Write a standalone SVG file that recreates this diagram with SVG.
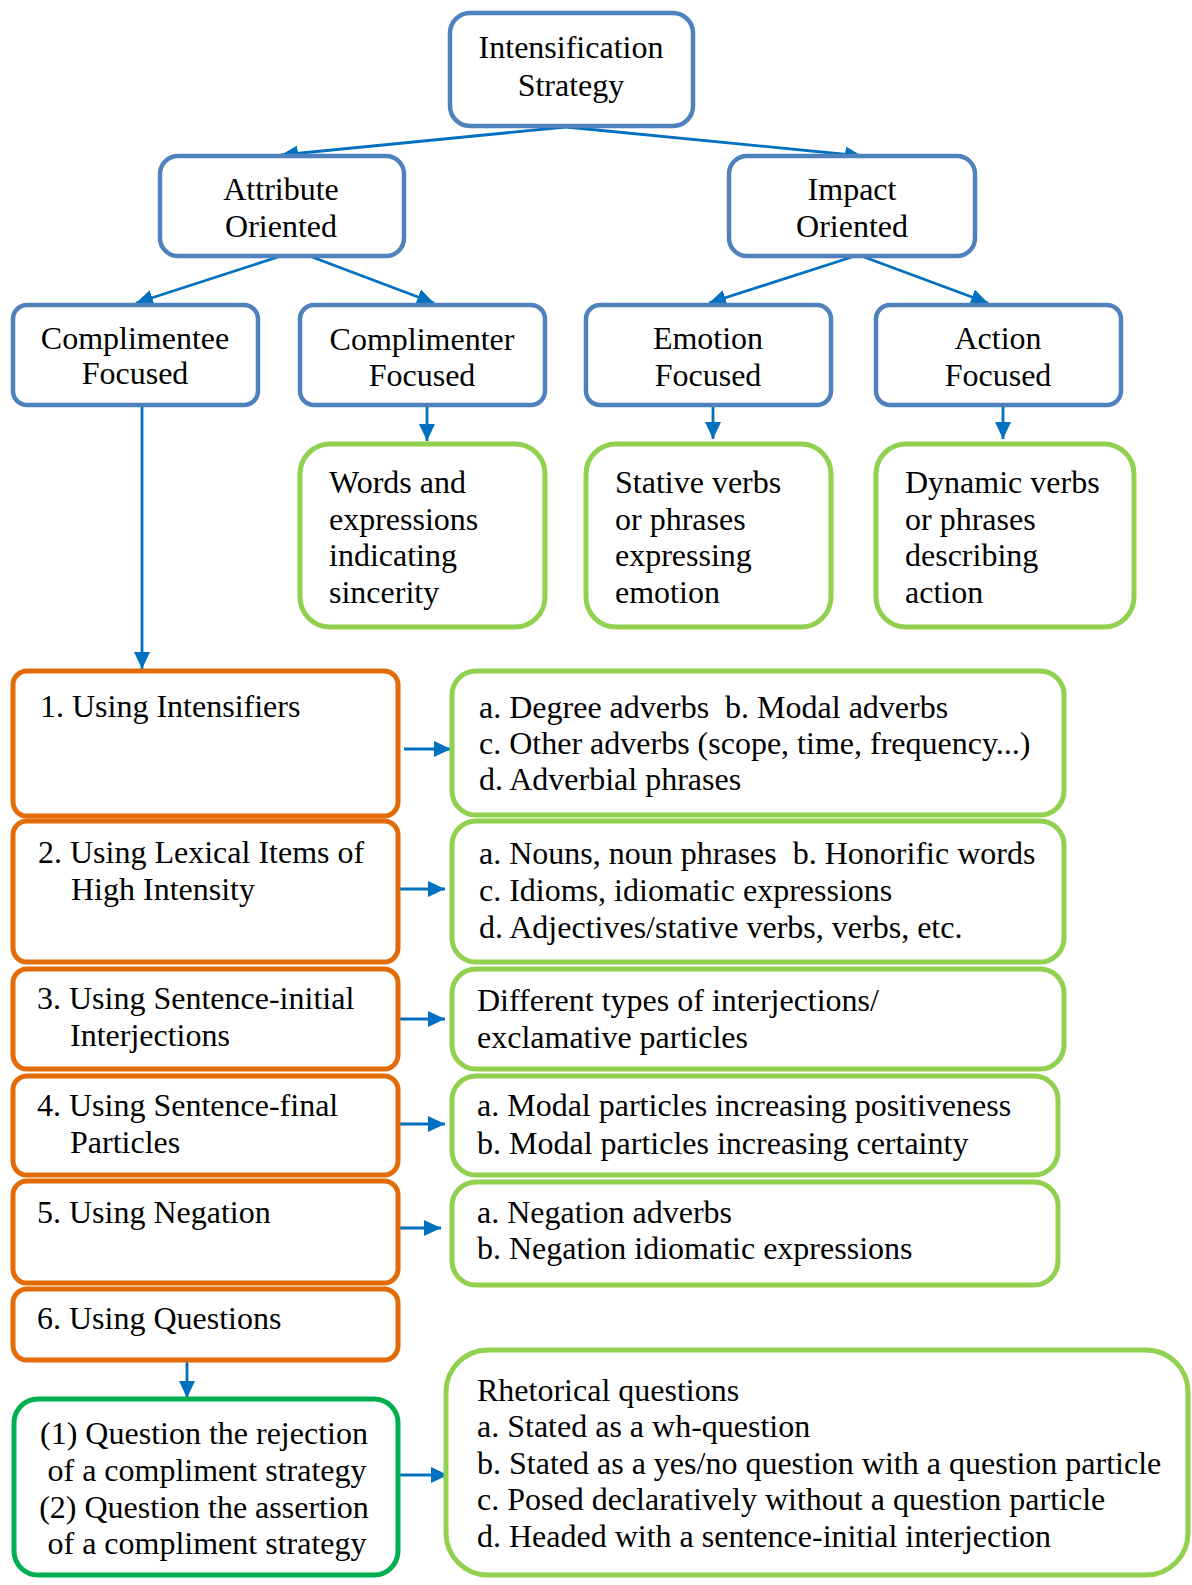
<svg xmlns="http://www.w3.org/2000/svg" width="1192" height="1585" viewBox="0 0 1192 1585">
<style>
text{font-family:"Liberation Serif","Times New Roman",serif;font-size:32px;fill:#000;white-space:pre}
.c{text-anchor:middle}
.blue{fill:#fff;stroke:#4F81BD;stroke-width:4.5}
.lg{fill:#fff;stroke:#92D050;stroke-width:5}
.or{fill:#fff;stroke:#E36C09;stroke-width:5}
.dg{fill:#fff;stroke:#00B050;stroke-width:5}
.conn line{stroke:#0070C0;stroke-width:2.8;fill:none}
</style>
<defs>
<marker id="ah" markerUnits="userSpaceOnUse" markerWidth="18" markerHeight="16" refX="17" refY="8" orient="auto">
<path d="M0,0 L17,8 L0,16 z" fill="#0070C0"/>
</marker>
</defs>
<rect width="1192" height="1585" fill="#fff"/>
<g class="conn">
<line x1="566" y1="127" x2="281" y2="155" marker-end="url(#ah)"/>
<line x1="566" y1="127" x2="862" y2="156" marker-end="url(#ah)"/>
<line x1="278" y1="257" x2="136" y2="303" marker-end="url(#ah)"/>
<line x1="312" y1="257" x2="434" y2="303" marker-end="url(#ah)"/>
<line x1="852" y1="257" x2="709" y2="303" marker-end="url(#ah)"/>
<line x1="864" y1="257" x2="988" y2="303" marker-end="url(#ah)"/>
<line x1="427" y1="407" x2="427" y2="441" marker-end="url(#ah)"/>
<line x1="713" y1="407" x2="713" y2="439" marker-end="url(#ah)"/>
<line x1="1003" y1="407" x2="1003" y2="439" marker-end="url(#ah)"/>
<line x1="142" y1="407" x2="142" y2="669" marker-end="url(#ah)"/>
<line x1="404" y1="749" x2="451" y2="749" marker-end="url(#ah)"/>
<line x1="398" y1="889" x2="445" y2="889" marker-end="url(#ah)"/>
<line x1="398" y1="1019" x2="445" y2="1019" marker-end="url(#ah)"/>
<line x1="398" y1="1124" x2="445" y2="1124" marker-end="url(#ah)"/>
<line x1="394" y1="1228" x2="441" y2="1228" marker-end="url(#ah)"/>
<line x1="187" y1="1362" x2="187" y2="1398" marker-end="url(#ah)"/>
<line x1="400" y1="1475" x2="448" y2="1475" marker-end="url(#ah)"/>
</g>
<g id="intensification">
<rect class="blue" x="450" y="13" width="243" height="113" rx="20"/>
<text class="c" x="571" y="58">Intensification</text>
<text class="c" x="571" y="96">Strategy</text>
</g>
<g id="attribute">
<rect class="blue" x="160" y="156" width="244" height="100" rx="18"/>
<text class="c" x="281" y="200">Attribute</text>
<text class="c" x="281" y="237">Oriented</text>
</g>
<g id="impact">
<rect class="blue" x="729" y="156" width="246" height="100" rx="18"/>
<text class="c" x="852" y="200">Impact</text>
<text class="c" x="852" y="237">Oriented</text>
</g>
<g id="complimentee">
<rect class="blue" x="13" y="305" width="245" height="100" rx="14"/>
<text class="c" x="135" y="349">Complimentee</text>
<text class="c" x="135" y="384">Focused</text>
</g>
<g id="complimenter">
<rect class="blue" x="300" y="305" width="245" height="100" rx="14"/>
<text class="c" x="422" y="350">Complimenter</text>
<text class="c" x="422" y="386">Focused</text>
</g>
<g id="emotion">
<rect class="blue" x="586" y="305" width="245" height="100" rx="14"/>
<text class="c" x="708" y="349">Emotion</text>
<text class="c" x="708" y="386">Focused</text>
</g>
<g id="action">
<rect class="blue" x="876" y="305" width="245" height="100" rx="14"/>
<text class="c" x="998" y="349">Action</text>
<text class="c" x="998" y="386">Focused</text>
</g>
<g id="words">
<rect class="lg" x="300" y="444" width="245" height="183" rx="30"/>
<text x="329" y="493">Words and</text>
<text x="329" y="530">expressions</text>
<text x="329" y="566">indicating</text>
<text x="329" y="603">sincerity</text>
</g>
<g id="stative">
<rect class="lg" x="586" y="444" width="245" height="183" rx="30"/>
<text x="615" y="493">Stative verbs</text>
<text x="615" y="530">or phrases</text>
<text x="615" y="566">expressing</text>
<text x="615" y="603">emotion</text>
</g>
<g id="dynamic">
<rect class="lg" x="876" y="444" width="258" height="183" rx="30"/>
<text x="905" y="493">Dynamic verbs</text>
<text x="905" y="530">or phrases</text>
<text x="905" y="566">describing</text>
<text x="905" y="603">action</text>
</g>
<g id="s1">
<rect class="or" x="13" y="671" width="385" height="145" rx="14"/>
<text x="40" y="717">1. Using Intensifiers</text>
</g>
<g id="s2">
<rect class="or" x="13" y="821" width="385" height="141" rx="14"/>
<text x="38" y="863">2. Using Lexical Items of</text>
<text x="71" y="900">High Intensity</text>
</g>
<g id="s3">
<rect class="or" x="13" y="969" width="385" height="100" rx="14"/>
<text x="37" y="1009">3. Using Sentence-initial</text>
<text x="70" y="1046">Interjections</text>
</g>
<g id="s4">
<rect class="or" x="13" y="1076" width="385" height="99" rx="14"/>
<text x="37" y="1116">4. Using Sentence-final</text>
<text x="70" y="1153">Particles</text>
</g>
<g id="s5">
<rect class="or" x="13" y="1181" width="385" height="102" rx="14"/>
<text x="37" y="1223">5. Using Negation</text>
</g>
<g id="s6">
<rect class="or" x="13" y="1289" width="385" height="71" rx="14"/>
<text x="37" y="1329">6. Using Questions</text>
</g>
<g id="q">
<rect class="dg" x="14" y="1399" width="384" height="176" rx="24"/>
<text class="c" x="204" y="1444">(1) Question the rejection</text>
<text class="c" x="207" y="1481">of a compliment strategy</text>
<text class="c" x="204" y="1518">(2) Question the assertion</text>
<text class="c" x="207" y="1554">of a compliment strategy</text>
</g>
<g id="r1">
<rect class="lg" x="452" y="671" width="612" height="144" rx="24"/>
<text x="479" y="718">a. Degree adverbs  b. Modal adverbs</text>
<text x="479" y="754">c. Other adverbs (scope, time, frequency...)</text>
<text x="479" y="790">d. Adverbial phrases</text>
</g>
<g id="r2">
<rect class="lg" x="452" y="821" width="612" height="141" rx="24"/>
<text x="479" y="864">a. Nouns, noun phrases  b. Honorific words</text>
<text x="479" y="901">c. Idioms, idiomatic expressions</text>
<text x="479" y="938">d. Adjectives/stative verbs, verbs, etc.</text>
</g>
<g id="r3">
<rect class="lg" x="452" y="969" width="612" height="100" rx="24"/>
<text x="477" y="1011">Different types of interjections/</text>
<text x="477" y="1048">exclamative particles</text>
</g>
<g id="r4">
<rect class="lg" x="452" y="1076" width="606" height="99" rx="24"/>
<text x="477" y="1116">a. Modal particles increasing positiveness</text>
<text x="477" y="1154">b. Modal particles increasing certainty</text>
</g>
<g id="r5">
<rect class="lg" x="452" y="1182" width="606" height="103" rx="24"/>
<text x="477" y="1223">a. Negation adverbs</text>
<text x="477" y="1259">b. Negation idiomatic expressions</text>
</g>
<g id="rhet">
<rect class="lg" x="446" y="1350" width="742" height="225" rx="42"/>
<text x="477" y="1401">Rhetorical questions</text>
<text x="477" y="1437">a. Stated as a wh-question</text>
<text x="477" y="1474">b. Stated as a yes/no question with a question particle</text>
<text x="477" y="1510">c. Posed declaratively without a question particle</text>
<text x="477" y="1547">d. Headed with a sentence-initial interjection</text>
</g>
</svg>
